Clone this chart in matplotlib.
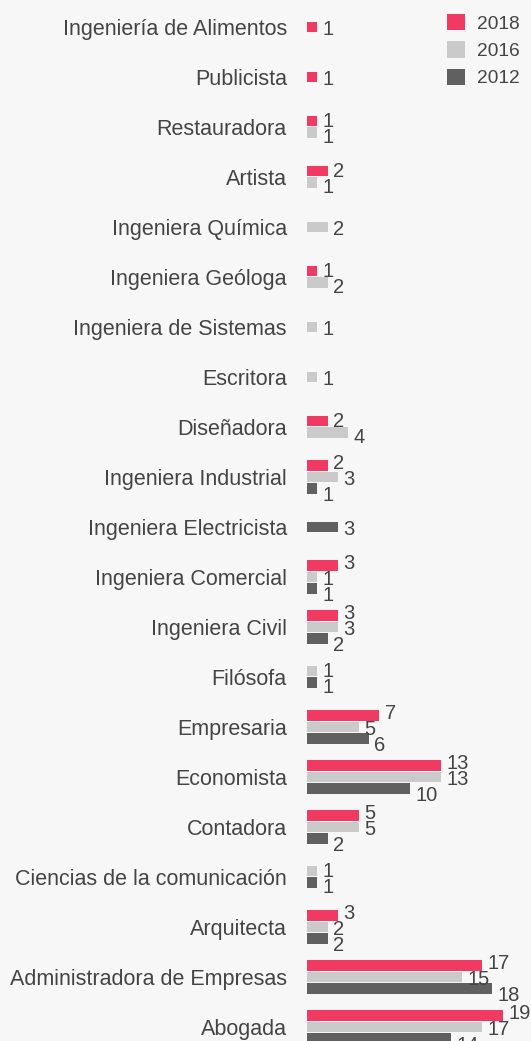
import numpy as np
import matplotlib.pyplot as plt
from matplotlib.patches import Patch

plt.rcParams['font.family'] = ['Liberation Sans', 'DejaVu Sans']

categorias = [
    "Ingeniería de Alimentos", "Publicista", "Restauradora", "Artista",
    "Ingeniera Química", "Ingeniera Geóloga", "Ingeniera de Sistemas",
    "Escritora", "Diseñadora", "Ingeniera Industrial",
    "Ingeniera Electricista", "Ingeniera Comercial", "Ingeniera Civil",
    "Filósofa", "Empresaria", "Economista", "Contadora",
    "Ciencias de la comunicación", "Arquitecta",
    "Administradora de Empresas", "Abogada",
]
anios = ["2018", "2016", "2012"]
v2018 = [1, 1, 1, 2, None, 1, None, None, 2, 2, None, 3, 3, None, 7, 13, 5, None, 3, 17, 19]
v2016 = [None, None, 1, 1, 2, 2, 1, 1, 4, 3, None, 1, 3, 1, 5, 13, 5, 1, 2, 15, 17]
v2012 = [None, None, None, None, None, None, None, None, None, 1, 3, 1, 2, 1, 6, 10, 2, 1, 2, 18, 14]

colores = ["#f03a62", "#cacaca", "#606060"]
texto = "#444444"
fondo = "#f7f7f7"

W, H = 531, 1041
fig = plt.figure(figsize=(W / 100, H / 100), dpi=100)
fig.patch.set_facecolor(fondo)

x0 = 307 / W
ax = fig.add_axes([x0, 0, 1 - x0, 1])
ax.set_facecolor(fondo)
ax.set_xlim(0, (W - 307) / 10.3)
ax.set_ylim(20.28, -0.54)
ax.axis("off")

paso = 0.23       # separación entre barras de una misma categoría
paso_txt = 0.32   # las etiquetas se abren un poco más que las barras
alto = 0.21

series = [v2018, v2016, v2012]
for i, cat in enumerate(categorias):
    # solo se dibujan las series con dato, centradas en la categoría
    presentes = [k for k in range(3) if series[k][i] is not None]
    n = len(presentes)
    for j, k in enumerate(presentes):
        val = series[k][i]
        y = i + (j - (n - 1) / 2) * paso
        yt = i + (j - (n - 1) / 2) * paso_txt
        ax.barh(y, val, height=alto, color=colores[k], edgecolor="none")
        ax.annotate(str(val), (val, yt), xytext=(4, -2), textcoords="offset points",
                    ha="left", va="center", fontsize=14.5, color=texto,
                    annotation_clip=False)
    ax.annotate(cat, (0, i), xytext=(-14.5, -1.5), textcoords="offset points",
                ha="right", va="center", fontsize=15.5, color=texto,
                annotation_clip=False)

handles = [Patch(facecolor=c, edgecolor="none") for c in colores]
fig.legend(handles, anios, loc="upper left", bbox_to_anchor=(447 / W, 1 - 14 / H),
           frameon=False, fontsize=13.8, labelcolor=texto, borderpad=0,
           borderaxespad=0, handlelength=0.93, handleheight=0.93,
           handletextpad=0.62, labelspacing=0.45)

fig.savefig("out.png", dpi=100, facecolor=fondo)
